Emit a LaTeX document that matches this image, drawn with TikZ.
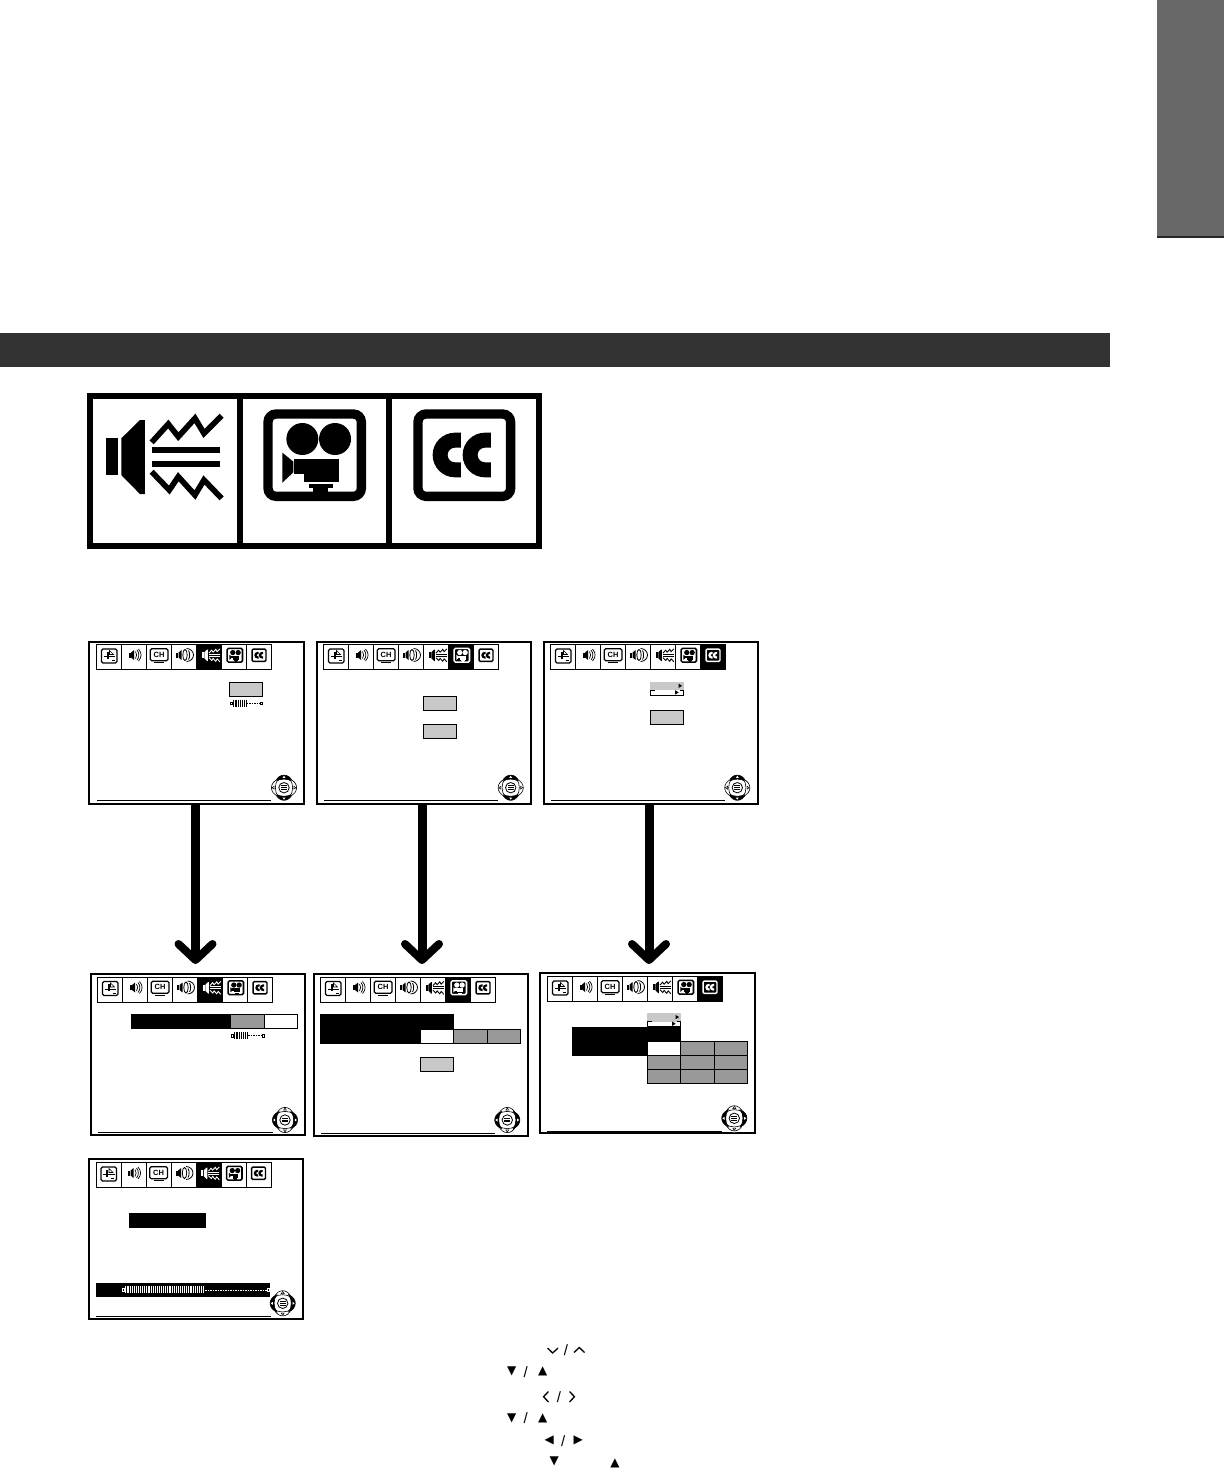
\documentclass[tikz,border=0pt]{standalone}
\usepackage{fontspec}
\setmainfont{Liberation Sans}
\newfontfamily\symfont{DejaVu Sans}
\usetikzlibrary{arrows.meta,calc}
\pgfdeclarelayer{bg}
\pgfsetlayers{bg,main}
\definecolor{boxgray}{HTML}{C8C8C8}
\definecolor{optgray}{HTML}{999999}
\definecolor{band}{HTML}{333333}
\definecolor{tabgray}{HTML}{686868}
\tikzset{
  panel/.style={draw=black,fill=white,line width=2pt,inner sep=0pt,outer sep=0pt},
  bigcell/.style={draw=black,fill=white,line width=5.5pt,inner sep=0pt,outer sep=0pt},
  link/.style={line width=10pt,draw=black,shorten >=-3pt,shorten <=-3pt},
  flow/.style={line width=9pt,draw=black,-{Straight Barb[round,length=16pt,width=34pt,line width=8pt]}},
  optbox/.style={draw=black,line width=.9pt},
  sym/.style={font=\symfont\fontsize{12}{12}\selectfont,inner sep=0pt},
  slashmark/.style={font=\fontsize{15}{15}\selectfont,inner sep=0pt},
  chev/.style={draw=black,line width=1.3pt},
  chlabel/.style={font=\bfseries\fontsize{7.5}{7.5}\selectfont,inner sep=0pt},
}
% --- icons (x, y, scale); colours from \fgc and \bgc
\newcommand\iconzig[3]{%
  \begin{scope}[shift={(#1,#2)},scale=#3,shift={(-250,-215)}]
    \fill[\fgc] (78,160) rectangle (115,270);
    \fill[\fgc] (124,160) -- (180,105) -- (195,105) -- (195,327) -- (180,327) -- (124,270) -- cycle;
    \fill[\fgc] (215,187) rectangle (420,205);
    \fill[\fgc] (215,227) rectangle (420,245);
    \draw[\fgc,line width={#3*17pt}] (215,172) -- (265,117) -- (295,155) -- (345,100) -- (372,145) -- (425,92);
    \draw[\fgc,line width={#3*17pt}] (215,260) -- (268,315) -- (295,275) -- (345,330) -- (372,285) -- (425,340);
  \end{scope}}
\newcommand\iconframe[5]{% x0 x1 center-x scale unused
  \pgfmathsetmacro\rr{#4*24}%
  \draw[\fgc,fill=\bgc,line width={#4*28pt},rounded corners=\rr pt] (#1,87) rectangle (#2,334);}
\newcommand\iconcam[3]{%
  \begin{scope}[shift={(#1,#2)},scale=#3,shift={(-704,-210)}]
    \iconframe{564}{844}{704}{#3}{}
    \fill[\fgc] (667,162) circle[radius=48];
    \fill[\fgc] (765,162) circle[radius=48];
    \fill[\fgc] (642,222) rectangle (778,268);
    \fill[\fgc] (672,268) rectangle (778,290);
    \fill[\fgc] (607,203) -- (640,230) -- (640,262) -- (607,293) -- cycle;
    \fill[\fgc] (688,298) rectangle (758,310);
    \fill[\fgc] (700,310) rectangle (745,320);
  \end{scope}}
\newcommand\iconcc[3]{%
  \begin{scope}[shift={(#1,#2)},scale=#3,shift={(-1153,-210)}]
    \iconframe{1014}{1292}{1153}{#3}{}
    \foreach \d in {0,90}{
      \fill[\fgc] ({1143+\d},143) -- ({1125+\d},143) arc[start angle=270,end angle=90,radius=67]
        -- ({1143+\d},277) -- ({1143+\d},232) -- ({1125+\d},232)
        arc[start angle=90,end angle=270,radius=22] -- ({1143+\d},188) -- cycle;
    }
  \end{scope}}
% small speaker: x offset
\newcommand\smallspk[1]{%
  \fill[\fgc] (#1,8) rectangle ({#1+2},13);
  \fill[\fgc] ({#1+2.6},8) -- ({#1+5.6},5.5) -- ({#1+5.6},15.5) -- ({#1+2.6},13) -- cycle;}
\newcommand\cellicon[3]{% cell index, panel id, unused
  \ifcase#1\or
    \draw[\fgc,line width=1.2pt,rounded corners=1.5pt] (5,4.5) rectangle (20.5,18.5);
    \draw[\fgc,line width=.8pt] (7,12) -- (18.5,12);
    \draw[\fgc,line width=2pt] (11,7) -- (11,14);
    \draw[\fgc,line width=.6pt] (13,6) -- (17,10) -- (13,10) -- cycle;
    \draw[\fgc,line width=.8pt] (15,16) -- (18,16);
  \or
    \smallspk{7}
    \draw[\fgc,line width=.7pt] (14,7) .. controls (15.5,9) and (15.5,12) .. (14,14);
    \draw[\fgc,line width=.7pt] (15.5,5.5) .. controls (18,8.5) and (18,12.5) .. (15.5,15.5);
    \draw[\fgc,line width=.7pt] (17,4.5) .. controls (20.5,8.5) and (20.5,12.5) .. (17,16.5);
  \or
    \draw[\fgc,line width=1.3pt,rounded corners=1.5pt] (3.8,4.2) rectangle (21.5,16.3);
    \fill[\fgc] (7.5,17.5) rectangle (17.5,18.8);
    \node[chlabel,text=\fgc] (ch#2) at (12.6,10.2) {CH};
  \or
    \smallspk{4.5}
    \draw[\fgc,line width=.8pt] (13.5,10.5) ellipse[x radius=2.2,y radius=5.5];
    \draw[\fgc,line width=.8pt] (15,4) .. controls (19,4) and (22,7) .. (22,10.5) .. controls (22,14) and (19,17) .. (15,17);
    \draw[\fgc,line width=.8pt] (17,6) .. controls (18.5,8) and (18.5,13) .. (17,15);
  \or
    \iconzig{14.3}{10.8}{0.052}
  \or
    \iconcam{13.3}{10.7}{0.055}
  \or
    \iconcc{12.5}{10.7}{0.05}
  \fi}
% strip: id x y selected
\newcommand\iconstrip[4]{%
  \begin{scope}[shift={(#2,#3)}]
    \foreach \i in {1,...,7}{
      \begin{scope}[shift={({(\i-1)*25},0)}]
        \ifnum\i=#4\relax
          \def\fgc{white}\def\bgc{black}\fill[black] (0,0) rectangle (25,25);
        \else
          \def\fgc{black}\def\bgc{white}
        \fi
        \draw[black,line width=1pt] (0,0) rectangle (25,25);
        \cellicon{\i}{#1}{}
      \end{scope}
    }
  \end{scope}}
% nav pad: x y mode (0 vertical lobes black, 1 horizontal lobes black)
\newcommand\navlobe[2]{% rotation, black?
  \begin{scope}[rotate=#1]
    \ifnum#2=1\relax
      \filldraw[black,line width=.6pt] (-8.5,-6) .. controls (-5,-14.8) and (5,-14.8) .. (8.5,-6) .. controls (4,-9.5) and (-4,-9.5) .. cycle;
      \fill[white] (-1.5,-9.8) -- (1.5,-9.8) -- (0,-12) -- cycle;
    \else
      \filldraw[draw=black,fill=white,line width=.6pt] (-8.5,-6) .. controls (-5,-14.8) and (5,-14.8) .. (8.5,-6) .. controls (4,-9.5) and (-4,-9.5) .. cycle;
      \draw[black,line width=.5pt] (-1.5,-9.8) -- (1.5,-9.8) -- (0,-12) -- cycle;
    \fi
  \end{scope}}
\newcommand\navpad[3]{%
  \begin{scope}[shift={(#1,#2)}]
    \fill[white] (0,0) circle[radius=14];
    \ifnum#3=0\relax
      \navlobe{0}{1}\navlobe{180}{1}\navlobe{90}{0}\navlobe{270}{0}
    \else
      \navlobe{0}{0}\navlobe{180}{0}\navlobe{90}{1}\navlobe{270}{1}
    \fi
    \draw[black,line width=.8pt] (0,0) circle[radius=5.2];
    \fill[black] (-3,-2.4) rectangle (3,-1.4);
    \fill[black] (-3,-.5) rectangle (3,.5);
    \fill[black] (-3,1.4) rectangle (3,2.4);
  \end{scope}}
% slider: x0 xsplit x1 y colour
\newcommand\levelbar[5]{%
  \pgfmathtruncatemacro\nb{(#2-#1-3)/2.1}%
  \draw[#5,line width=.7pt] (#1,{#4-1.2}) rectangle ({#1+2.2},{#4+1.2});
  \foreach \u in {0,...,\nb}{
    \draw[#5,line width=1.1pt] ({#1+3.4+\u*2.1},{#4-3.6}) -- ({#1+3.4+\u*2.1},{#4+3.6});
  }
  \draw[#5,line width=.6pt,dash pattern=on 1.5pt off 1pt] (#2,#4) -- ({#3-2},#4);
  \draw[#5,line width=.7pt] ({#3-2},{#4-1.2}) rectangle ({#3+.2},{#4+1.2});}
% gray box with the CC-setting look: x0 y0
\newcommand\capbox[2]{%
  \fill[boxgray] (#1,#2) rectangle ({#1+33.3},{#2+8.4});
  \draw[black,line width=.8pt] (#1,{#2+8.4}) -- ({#1+4.5},{#2+8.4});
  \draw[black,line width=.8pt] ({#1+29.5},{#2+8.4}) -- ({#1+33.3},{#2+8.4}) -- ({#1+33.3},{#2+13.4}) -- (#1,{#2+13.4}) -- (#1,{#2+8.4});
  \fill[black] ({#1+28.2},{#2+1.6}) -- ({#1+31.8},{#2+3.8}) -- ({#1+28.2},{#2+6}) -- cycle;
  \fill[black] ({#1+24.8},{#2+8.2}) -- ({#1+28.4},{#2+10.4}) -- ({#1+24.8},{#2+12.6}) -- cycle;}
\newcommand\panelnode[5]{% name x0 y0 x1 y1
  \node[panel,minimum width={(#4-#2)*1pt},minimum height={(#5-#3)*1pt}] (#1) at ({(#2+#4)/2},{(#3+#5)/2}) {};}
\begin{document}
\begin{tikzpicture}[x=1pt,y=-1pt]
\useasboundingbox (0,0) rectangle (1224,1469);
\fill[white] (0,0) rectangle (1224,1469);
% tab and heading band
\fill[tabgray] (1157,0) rectangle (1224,237);
\fill[black!85] (1157,236) rectangle (1224,238);
\fill[band] (0,333) rectangle (1110,367);
% large icons
\node[bigcell,minimum width=150pt,minimum height=150pt] (bigA) at (165,471) {};
\node[bigcell,minimum width=149pt,minimum height=150pt] (bigB) at (314.5,471) {};
\node[bigcell,minimum width=150pt,minimum height=150pt] (bigC) at (464,471) {};
\def\fgc{black}\def\bgc{white}
\iconzig{163.3}{456.7}{0.33333}
\iconcam{314.7}{455}{0.33333}
\iconcc{464.3}{455}{0.33333}
% panels
\panelnode{p1}{89}{642}{304}{804}
\panelnode{p2}{317}{642}{531}{804}
\panelnode{p3}{544}{642}{757.5}{804}
\panelnode{l1}{91}{974}{305}{1135}
\panelnode{l2}{314}{974}{528}{1136}
\panelnode{l3}{539.5}{973}{755}{1133}
\panelnode{b1}{89}{1159}{303}{1319}
% connectors
\begin{pgfonlayer}{bg}
\draw[link] ([xshift=2.5pt]bigA.south) -- ([xshift=.5pt]p1.north);
\draw[link] ([xshift=3pt]bigB.south) -- ([xshift=1pt]p2.north);
\draw[link] ([xshift=3pt]bigC.south) -- ([xshift=1.2pt]p3.north);
\end{pgfonlayer}
\coordinate (t1) at (195.5,964);
\coordinate (t2) at (422,964);
\coordinate (t3) at (649,964);
\draw[flow] (p1.south -| t1) -- (t1);
\draw[flow] (p2.south -| t2) -- (t2);
\draw[flow] (p3.south -| t3) -- (t3);
% strips
\iconstrip{p1}{96.5}{644.5}{5}
\iconstrip{p2}{323.5}{644.5}{6}
\iconstrip{p3}{550.5}{644.5}{7}
\iconstrip{l1}{97.5}{977}{5}
\iconstrip{l2}{320.5}{977}{6}
\iconstrip{l3}{547.5}{976.5}{7}
\iconstrip{b1}{96}{1162.5}{5}
% bottom rules
\draw[black,line width=1pt] (97,800) -- (271,800);
\draw[black,line width=1pt] (324,800) -- (498,800);
\draw[black,line width=1pt] (551,800) -- (725,800);
\draw[black,line width=1pt] (98,1132.3) -- (273,1132.3);
\draw[black,line width=1pt] (321,1133) -- (495,1133);
\draw[black,line width=1pt] (547,1131.3) -- (722,1131.3);
\draw[black,line width=1pt] (96,1316) -- (271,1316);
% nav pads
\navpad{284}{787.7}{0}
\navpad{510.7}{787.7}{0}
\navpad{737.3}{787.7}{0}
\navpad{285}{1120}{1}
\navpad{507.3}{1120}{1}
\navpad{734.3}{1118.3}{1}
\navpad{282.7}{1303.3}{1}
% panel p1
\draw[optbox,fill=boxgray] (229.3,682.5) rectangle (262.7,696.7);
\levelbar{230.5}{246.5}{262}{703.3}{black}
% panel p2
\draw[optbox,fill=boxgray] (423.3,696.5) rectangle (456.7,710.7);
\draw[optbox,fill=boxgray] (423.3,724.5) rectangle (456.7,738.7);
% panel p3
\capbox{650.3}{682}
\draw[optbox,fill=boxgray] (650.3,710.5) rectangle (683.7,724.7);
% panel l1
\fill[black] (131,1014.3) rectangle (230.7,1028.7);
\draw[optbox,fill=optgray] (230.7,1014.3) rectangle (264.3,1028.7);
\draw[optbox,fill=white] (264.3,1014.3) rectangle (297.7,1028.7);
\levelbar{231.5}{248}{264}{1035.7}{black}
% panel l2
\fill[black] (320,1014.3) rectangle (453.7,1029);
\fill[black] (320,1029) rectangle (420.7,1043.7);
\draw[optbox,fill=white] (420.7,1029) rectangle (453.7,1043.7);
\draw[optbox,fill=optgray] (453.7,1029) rectangle (487.3,1043.7);
\draw[optbox,fill=optgray] (487.3,1029) rectangle (520.7,1043.7);
\draw[optbox,fill=boxgray] (420.5,1057.5) rectangle (453.7,1071.7);
% panel l3
\capbox{647.3}{1013.3}
\fill[black] (572.3,1027) rectangle (680.7,1041.3);
\fill[black] (572.3,1041.3) rectangle (647.3,1055.7);
\draw[optbox,fill=white] (647.3,1041.3) rectangle (680.7,1055.7);
\draw[optbox,fill=optgray] (680.7,1041.3) rectangle (714,1055.7);
\draw[optbox,fill=optgray] (714,1041.3) rectangle (747.7,1055.7);
\foreach \yy/\yz in {1055.7/1069.7,1069.7/1083.3}{
  \draw[optbox,fill=optgray] (647.3,\yy) rectangle (680.7,\yz);
  \draw[optbox,fill=optgray] (680.7,\yy) rectangle (714,\yz);
  \draw[optbox,fill=optgray] (714,\yy) rectangle (747.7,\yz);
}
% panel b1
\fill[black] (129,1213) rectangle (206,1228);
\fill[black] (96,1283.3) rectangle (270,1297);
\levelbar{122.5}{205}{269}{1289.8}{white}
% key marks at the foot
\draw[chev] (547.5,1348) -- (552.7,1353) -- (558,1348);
\node[slashmark] (s1) at (566,1350) {/};
\draw[chev] (574,1352.5) -- (579.3,1347.5) -- (584.5,1352.5);
\node[sym] (d2) at (511.7,1371.7) {▼};
\node[slashmark] (s2) at (525.7,1371.7) {/};
\node[sym] (u2) at (542.7,1371.7) {▲};
\draw[chev] (548.5,1391.5) -- (543.5,1396.7) -- (548.5,1402);
\node[slashmark] (s3) at (559,1396.7) {/};
\draw[chev] (569.5,1391.5) -- (574.5,1396.7) -- (569.5,1402);
\node[sym] (d4) at (511.7,1418.3) {▼};
\node[slashmark] (s4) at (525.7,1418.3) {/};
\node[sym] (u4) at (542.7,1418.3) {▲};
\node[sym] (l5) at (549.3,1440.7) {◀};
\node[slashmark] (s5) at (563.3,1440.7) {/};
\node[sym] (r5) at (578.3,1440.7) {▶};
\node[sym] (d6) at (554.3,1461.7) {▼};
\node[sym] (u6) at (615,1463) {▲};
\end{tikzpicture}
\end{document}
